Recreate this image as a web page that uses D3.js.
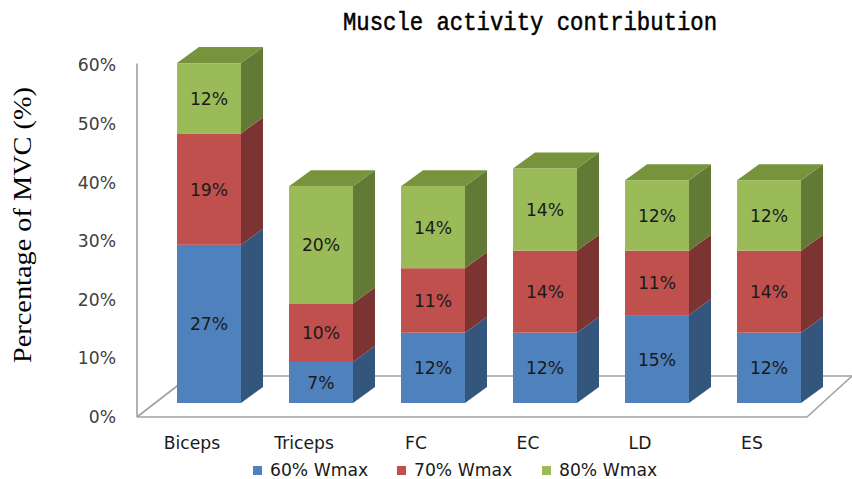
<!DOCTYPE html>
<html><head><meta charset="utf-8">
<script src="https://cdn.jsdelivr.net/npm/d3@7"></script>
<style>body{margin:0;background:#fff}svg{display:block}</style>
</head><body>
<svg id="c" width="852" height="479"></svg>
<script>
const categories = ["Biceps","Triceps","FC","EC","LD","ES"];
const series = ["60% Wmax","70% Wmax","80% Wmax"];
const w60 = [27, 7, 12, 12, 15, 12];
const w70 = [19, 10, 11, 14, 11, 14];
const w80 = [12, 20, 14, 14, 12, 12];
const yTicks = [0, 10, 20, 30, 40, 50, 60];
const title = "Muscle activity contribution";
const yTitle = "Percentage of MVC (%)";

const front = ["#4F81BD", "#C0504D", "#9BBB59"];
const side  = ["#34557C", "#7B3431", "#637A36"];
const topc  = ["#3E6898", "#9A403D", "#77933C"];
const font = "'DejaVu Sans', sans-serif";
const fs = 17.2;

const svg = d3.select("#c");
const rows = categories.map((c, i) => ({cat: c, "60% Wmax": w60[i], "70% Wmax": w70[i], "80% Wmax": w80[i]}));
const stacked = d3.stack().keys(series)(rows);

const x = d3.scaleBand().domain(categories).range([153, 825]).paddingInner(48/112).paddingOuter(24/112);
const y = d3.scaleLinear().domain([0, 60]).range([403, 51.4]);
const dx = 22, dy = -16;        // bar depth
const axisOff = 14;             // front floor edge below bar base

// floor & wall
const g0 = svg.append("g").attr("stroke", "#a0a0a0").attr("stroke-width", 1.6).attr("fill", "none");
const yF = y(0) + axisOff, yB = yF - 41;
g0.append("line").attr("x1", 190).attr("y1", yB).attr("x2", 852).attr("y2", yB);
g0.append("line").attr("x1", 137).attr("y1", yF).attr("x2", 190).attr("y2", yB);
g0.append("line").attr("x1", 137).attr("y1", y(60) + axisOff - 2).attr("x2", 137).attr("y2", yF);
g0.append("line").attr("x1", 137).attr("y1", yF).attr("x2", 807).attr("y2", yF);
g0.append("line").attr("x1", 807).attr("y1", yF).attr("x2", 852).attr("y2", yB);

// y axis labels
const ya = svg.append("g").attr("transform", `translate(116,${axisOff})`)
  .call(d3.axisLeft(y).tickValues(yTicks).tickFormat(d => d + "%").tickSize(0).tickPadding(0));
ya.select(".domain").remove();
ya.selectAll("text").attr("font-family", font).attr("font-size", fs).attr("fill", "#404040");

// bars
const bw = x.bandwidth();
stacked.forEach((s, si) => {
  const g = svg.append("g");
  s.forEach((d, i) => {
    const x0 = x(d.data.cat), x1 = x0 + bw;
    const yt = y(d[1]), yb = y(d[0]);
    g.append("path").attr("fill", side[si])
      .attr("d", `M${x1},${yt}L${x1+dx},${yt+dy}L${x1+dx},${yb+dy}L${x1},${yb}Z`);
    g.append("rect").attr("x", x0).attr("y", yt).attr("width", bw).attr("height", yb - yt).attr("fill", front[si]);
    if (si === series.length - 1) {
      g.append("path").attr("fill", topc[si])
        .attr("d", `M${x0},${yt}L${x0+dx},${yt+dy}L${x1+dx},${yt+dy}L${x1},${yt}Z`);
    }
    g.append("text").attr("x", x0 + bw/2).attr("y", (yt + yb)/2 + 6.5)
      .attr("text-anchor", "middle").attr("font-family", font).attr("font-size", fs).attr("fill", "#1a1a1a")
      .text((d[1] - d[0]) + "%");
  });
});

// category labels
const xa = svg.append("g").attr("transform", `translate(-17,${yF + 32})`)
  .call(d3.axisBottom(x).tickSize(0).tickPadding(0));
xa.select(".domain").remove();
xa.selectAll("text").attr("font-family", font).attr("font-size", fs).attr("fill", "#1a1a1a").attr("dy", "0em").attr("y", 0);

// legend
const lx = [253, 397, 542];
series.forEach((s, i) => {
  svg.append("rect").attr("x", lx[i]).attr("y", 466).attr("width", 9).attr("height", 9).attr("fill", front[i]);
  svg.append("text").attr("x", lx[i] + 17).attr("y", 475.5).attr("font-family", font).attr("font-size", fs)
    .attr("fill", "#1a1a1a").text(s);
});

// titles
svg.append("text").attr("x", 343).attr("y", 30).attr("font-family", "'Liberation Mono', monospace")
  .attr("font-size", 25).attr("textLength", 374).attr("lengthAdjust", "spacingAndGlyphs")
  .attr("fill", "#000").attr("stroke", "#000").attr("stroke-width", 0.5).text(title);
svg.append("text").attr("transform", "translate(31,363) rotate(-90)").attr("font-family", "'Liberation Serif', serif")
  .attr("font-size", 26).attr("textLength", 276).attr("lengthAdjust", "spacingAndGlyphs").attr("fill", "#000").text(yTitle);
</script>
</body></html>
